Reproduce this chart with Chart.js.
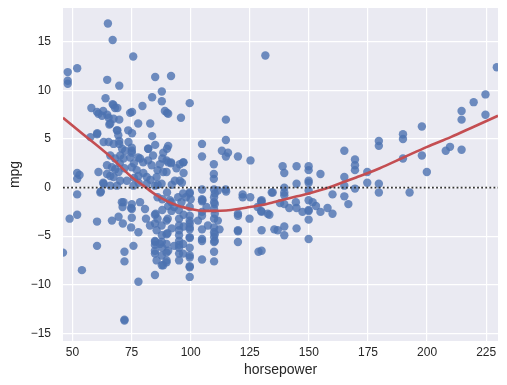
<!DOCTYPE html>
<html><head><meta charset="utf-8">
<script src="https://cdn.jsdelivr.net/npm/chart.js@4"></script>
<style>html,body{margin:0;padding:0;background:#fff}#wrap{width:507px;height:385px;position:relative}</style>
</head><body><div id="wrap"><canvas id="c"></canvas></div>
<script>
// [horsepower, residual mpg]
const residualPoints = [
 [46,-6.7],[48,11.9],[48,11.0],[48,10.7],[48.8,-3.2],[52,12.3],[52,1.5],[53,1.3],[52,0.9],[52,-0.7],[52,-2.8],[54,-8.5],
 [58,8.2],[61,7.6],[63,7.9],[60.4,7.8],[62.5,7.4],[57.6,5.2],[60.5,5.6],[60.4,5.5],[61,1.6],[63,0.5],[62,-0.4],[61.8,-0.5],[60.4,-3.5],[60.4,-6.0],
 [64,9.2],[65,16.9],[64.7,11.1],[64.7,7.5],[65.3,7.2],[63.2,4.7],[65.3,4.7],[64.6,2.3],[64.6,1.4],[63.2,0.4],[65.6,6.5],
 [67,15.2],[67,8.6],[67.3,8.5],[68,8.2],[69,8.2],[67.4,7.1],[66,6.6],[69.8,7.0],[69,5.9],[68.8,5.9],[69.4,5.4],[69.8,4.8],[67.4,4.5],[69.8,4.5],
 [66,3.3],[66.7,2.1],[68.1,1.9],[69.5,1.6],[66,1.2],[67.4,1.1],[66,0.2],[68.8,0.2],[69.8,10.5],[66.7,-3.4],[69.5,-3.0],
 [70.2,3.3],[71.6,3.0],[72.3,3.8],[73.7,4.7],[73.6,5.9],[74.4,7.7],[75.2,7.8],[74.4,3.1],[73,0.7],[70.2,0.7],[70.9,-1.5],[71.2,-2.0],[71.6,-1.5],
 [71.3,-3.7],[74.8,-2.1],[74.8,-4.1],[72,-6.6],[72,-7.6],[72,-13.6],[72,-13.7],
 [75.7,13.5],[75.2,5.6],[75.1,4.1],[75.1,3.8],[75.1,3.6],[75.1,2.1],[75.8,0.2],[77.2,1.8],[77.9,1.2],[77.8,6.6],[77.8,3.1],[79.6,8.4],[79.9,2.6],
 [78.6,3.0],[75.1,-1.7],[75.1,-2.2],[75.1,-3.1],[75.8,-6.0],[77.9,-4.6],[77.9,-9.7],[78.6,-1.5],
 [82.9,6.6],[83.7,9.3],[85,11.4],[83.7,5.3],[85,4.4],[82,4.0],[82.1,4.0],[84.1,3.3],[83.5,2.3],[81.4,1.1],[81.4,0.4],[84.9,0.2],[85.6,1.1],
 [80.7,-2.2],[81.1,-3.2],[82.8,-3.9],[84.9,-2.8],[85.2,-2.7],[84.9,-3.7],[84.9,-5.5],[84.9,-5.9],[84.9,-6.5],[84.9,-6.8],[85.6,-7.5],[84.9,-9.0],[85.6,-4.4],[85,-5.6],
 [87.8,9.9],[87.8,8.9],[89.1,7.9],[90.5,7.6],[90,7.7],[88.4,3.6],[90.5,4.3],[90,4.0],[89.8,2.8],[87,2.4],[88.4,1.6],[89.8,1.6],[87.7,0.4],
 [87.7,-3.9],[87.8,-4.9],[87.8,-5.6],[87,-5.8],[87.8,-7.0],[88.4,-8.0],[87.8,-8.0],[89.8,-3.4],[89.8,-4.8],[89.8,-5.8],[89.8,-6.7],[89.8,-7.5],
 [89.8,-7.7],[90.5,-6.5],[90.2,-4.7],[90.5,-1.9],[90.3,-3.2],[86,-1.0],[88,-1.2],
 [91.7,11.5],[90.5,2.6],[91.7,2.6],[91.7,2.5],[95.4,2.4],[96.8,2.6],[97,2.6],[95.9,7.2],[93.3,0.7],[95.4,0.7],[96.3,0.5],[91.9,-1.5],[91.2,-1.3],
 [91.9,-2.4],[94.7,-1.0],[96.1,-1.5],[96.8,-0.6],[95.1,-3.2],[95.1,-3.9],[95.1,-4.4],[95.1,-4.9],[95.1,-5.5],[95.1,-5.9],[95.1,-6.2],[95.1,-6.8],
 [95.1,-7.5],[96.8,-5.8],[96.8,-6.8],[99.6,8.7],[99.6,-0.5],[99.6,-0.6],[99.6,-2.0],[99.6,-2.9],[99.6,-3.4],[99.6,-3.7],[99.6,-4.1],[99.6,-4.3],
 [99.6,-5.1],[99.6,-5.2],[99.6,-6.2],[99.6,-7.0],[99.6,-7.2],[99.6,-8.1],[99.6,-8.2],[99.6,-9.2],
 [70,2.5],[72,2.0],[76,2.5],[78,0.5],[80,1.5],[83,0.8],[86,0.3],[88,3.0],[92,0.3],[94,2.0],[97,1.5],[68,3.0],[71,4.0],[76,1.0],[82,2.8],[86,1.8],
 [90,-0.5],[93,-2.0],[95,-2.3],[97,-2.8],[88,-2.3],[86,-3.2],[92,-4.2],[97,-4.0],[93,-6.0],[88,-6.2],[100,-1.2],[98,-1.0],
 [104.8,4.5],[104.8,3.2],[104.8,-0.2],[104.8,-1.2],[104.8,-1.4],[104.8,-2.5],[104.8,-2.9],[104.8,-4.3],[104.8,-5.3],[104.8,-5.5],[104.8,-7.4],
 [103.1,-3.4],[106.7,-2.0],[107.3,-3.9],[105,-1.3],[109.8,2.4],[109.8,1.4],[109.8,0.9],[109.9,-0.2],[110.2,-0.6],[109.9,-1.0],[109.9,-1.5],
 [110.2,-1.7],[109.9,-2.2],[110.2,-2.7],[109.9,-3.2],[109.9,-4.1],[109.9,-4.6],[110.2,-4.8],[109.9,-5.1],[110.2,-5.5],[109.9,-5.6],[109.9,-6.6],
 [109.9,-7.6],[111.5,-0.3],[111.5,-3.4],[112.2,-4.3],[113.2,3.8],[114.9,7.0],[114.9,4.9],[115.8,3.6],[114.9,3.2],[114.8,-0.2],[115,-0.4],
 [120,3.2],[125.3,2.8],[122,-0.7],[122,-1.0],[125.2,-1.0],[120,-2.7],[120,-2.9],[120,-4.4],[120,-4.5],[120,-5.6],[124.9,-3.2],[128.3,-2.0],
 [129.8,-1.4],[129.8,-2.4],[130,-1.3],[130,-1.5],[130,-2.5],[130,-4.4],[128.7,-6.6],[130,-6.5],[132.6,-2.7],[131.6,13.6],[134.3,-0.5],[134.7,-0.5],
 [135.4,-4.3],[133.3,-2.8],
 [138.9,2.2],[139.6,1.5],[139.6,0],[139.6,-0.5],[139.6,-0.8],[137.8,-1.6],[139.6,-1.7],[141.7,-2.1],[136.8,-4.4],[139.6,-4.0],[139.6,-4.9],
 [144.8,2.2],[144.8,0.4],[144.5,-1.5],[144.8,-2.1],[144.8,-4.2],[147.3,-2.5],[149.9,2.2],[149.9,1.8],[149.9,0.7],[149.9,0.5],[149.9,-0.3],
 [149.9,-1.3],[149.9,-2.3],[149.9,-2.4],[149.9,-3.3],[149.9,-5.3],[151.6,-1.5],[153,-1.9],[154.9,1.4],[154.9,-2.5],[157.9,-2.1],[160,-0.7],[160,-2.7],
 [165,3.8],[165,1.1],[165,0.2],[165,-0.9],[166.7,-1.7],[169.5,2.9],[169.5,2.3],[169.5,1.8],[169.5,-0.1],[174.7,1.6],[174.7,0.5],[179.6,4.8],
 [179.6,4.3],[179.6,0.4],[179.6,-0.5],[189.8,5.5],[189.8,5.0],[189.8,3.0],[192.6,-0.5],[197.8,6.3],[197.8,3.3],[199.9,1.6],[207.9,3.8],[209.7,4.2],
 [214.6,7.9],[214.6,7.0],[214.6,3.9],[219.7,8.8],[224.7,9.6],[224.7,7.5],[229.5,12.4]
];
// lowess fit
const lowessHp    = [46, 55, 65, 75, 80, 85, 90, 95, 100, 105, 110, 115, 120, 125, 130, 135, 140, 145, 150, 155, 160, 165, 170, 175, 180, 190, 200, 210, 220, 230];
const lowessResid = [7.2, 5.4, 3.4, 1.1, 0.2, -0.7, -1.4, -1.9, -2.2, -2.4, -2.4, -2.35, -2.2, -2.0, -1.8, -1.5, -1.2, -0.9, -0.6, -0.25, 0.15, 0.6, 1.05, 1.5, 2.0, 3.1, 4.2, 5.2, 6.3, 7.4];
const zeroLineHp = [46, 230];
const zeroLineResid = [0, 0];
const xTicks = [50, 75, 100, 125, 150, 175, 200, 225];
const yTicks = [-15, -10, -5, 0, 5, 10, 15];
const xRange = [46, 230];
const yRange = [-15.8, 18.5];

const FONT = "'Liberation Sans', Arial, sans-serif";
const bgPlugin = {
  id: 'bg',
  beforeDraw(chart) {
    const {ctx, chartArea: a} = chart;
    ctx.save();
    ctx.fillStyle = '#EAEAF2';
    ctx.fillRect(a.left, a.top, a.right - a.left, a.bottom - a.top);
    ctx.restore();
  }
};
const fmt = v => v < 0 ? '\u2212' + Math.abs(v) : String(v);

new Chart(document.getElementById('c'), {
  plugins: [bgPlugin],
  data: {
    datasets: [
      {
        type: 'scatter',
        data: residualPoints.map(p => ({x: p[0], y: p[1]})),
        backgroundColor: 'rgba(76,114,176,0.8)',
        borderWidth: 0,
        pointRadius: 4.2,
        pointHoverRadius: 4.2,
        clip: 0,
        order: 3
      },
      {
        type: 'line',
        data: lowessHp.map((h, i) => ({x: h, y: lowessResid[i]})),
        borderColor: '#C44E52',
        borderWidth: 2.6,
        pointRadius: 0,
        cubicInterpolationMode: 'monotone',
        clip: 0,
        order: 2
      },
      {
        type: 'line',
        data: zeroLineHp.map((h, i) => ({x: h, y: zeroLineResid[i]})),
        borderColor: '#333333',
        borderWidth: 1.8,
        borderDash: [1.8, 2.3],
        pointRadius: 0,
        order: 1
      }
    ]
  },
  options: {
    responsive: true,
    maintainAspectRatio: false,
    animation: false,
    devicePixelRatio: 1,
    layout: {padding: {left: 0, right: 9, top: 8, bottom: 0}},
    plugins: {legend: {display: false}, tooltip: {enabled: false}},
    scales: {
      x: {
        type: 'linear',
        min: xRange[0], max: xRange[1],
        afterBuildTicks: s => { s.ticks = xTicks.map(v => ({value: v})); },
        afterFit: s => { s.height = 44; s.paddingLeft = 0; s.paddingRight = 0; },
        grid: {color: '#ffffff', lineWidth: 1.2, drawTicks: false},
        border: {display: false},
        ticks: {padding: 4, color: '#262626', font: {family: FONT, size: 12}, callback: v => fmt(v)},
        title: {display: true, text: 'horsepower', color: '#262626', font: {family: FONT, size: 14}, padding: {top: 0, bottom: 6}}
      },
      y: {
        type: 'linear',
        min: yRange[0], max: yRange[1],
        afterBuildTicks: s => { s.ticks = yTicks.map(v => ({value: v})); },
        afterFit: s => { s.width = 63; s.paddingTop = 0; s.paddingBottom = 0; },
        grid: {color: '#ffffff', lineWidth: 1.2, drawTicks: false},
        border: {display: false},
        ticks: {padding: 12, color: '#262626', font: {family: FONT, size: 12}, callback: v => fmt(v)},
        title: {display: true, text: 'mpg', color: '#262626', font: {family: FONT, size: 14}, padding: {top: 7, bottom: 0}}
      }
    }
  }
});
</script>
</body></html>
